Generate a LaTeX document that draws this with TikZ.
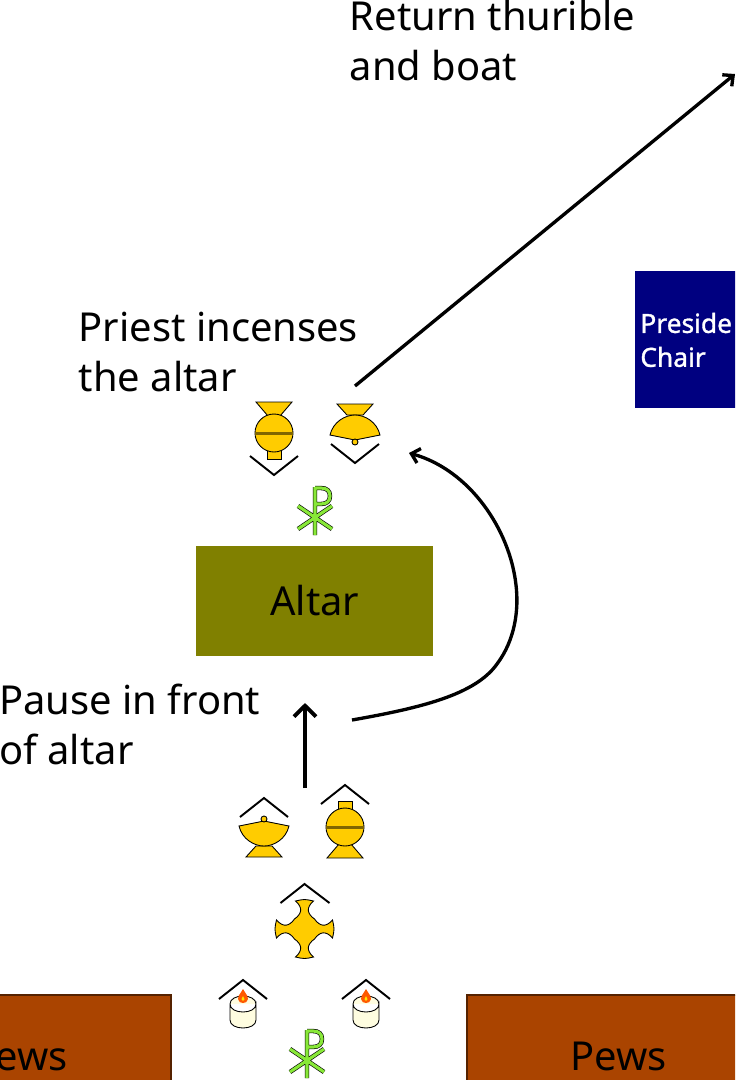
\documentclass[tikz,border=0pt]{standalone}
\usepackage{fontspec}
\setmainfont{Noto Sans}
\newfontfamily\chairfont[FakeBold=1.2]{Noto Sans}
\usetikzlibrary{arrows.meta}

\definecolor{gold}{HTML}{FFCC00}
\definecolor{goldband}{HTML}{806600}
\definecolor{chigreen}{HTML}{88E838}
\definecolor{pewbrown}{HTML}{AA4400}
\definecolor{pewedge}{HTML}{552200}
\definecolor{altarolive}{HTML}{808000}
\definecolor{chairblue}{HTML}{000080}
\definecolor{wax}{HTML}{FFFDE0}

\newcommand{\chipath}{(0, -31) -- (0, 17)
  (-17, -12) -- (17, 11) (17, -12) -- (-17, 11)
  (0, -30) -- (6, -30) .. controls (12, -30) and (15, -27) .. (15, -22)
  .. controls (15, -17) and (12, -14) .. (6, -14) -- (0, -14)}
\newcommand{\bigtext}{\fontsize{22.7}{28.3}\selectfont}

\tikzset{
  label/.style={anchor=north west, inner sep=0, align=left, font=\bigtext},
  pewbox/.style={draw=pewedge, line width=1.4pt, fill=pewbrown, inner sep=0,
    minimum width=6.04cm, minimum height=3cm},
  altarbox/.style={fill=altarolive, inner sep=0, minimum width=4.74cm, minimum height=2.2cm,
    font=\bigtext},
  pewtext/.style={inner sep=0, font=\bigtext},
  chairbox/.style={fill=chairblue, inner sep=0, minimum width=4cm, minimum height=2.74cm},
  chairtext/.style={anchor=north west, inner sep=0, align=left, text=white,
    font=\fontsize{15}{19.3}\chairfont},
  route/.style={line width=1.9pt, ->, >={Straight Barb[length=4.5pt, width=8.5pt, line width=1.9pt]}},
  bigroute/.style={line width=2.2pt, ->, >={Straight Barb[length=6.2pt, width=12.5pt, line width=2.2pt]}},
  vessel/.style={draw=black, line width=0.5pt, fill=gold},
  facing/.style={draw=black, line width=1.1pt},
  pics/chirho/.style={code={
    \draw[black, line width=2.5pt] \chipath;
    \draw[chigreen, line width=1.8pt] \chipath;
  }},
  pics/boat/.style={code={
    \draw[facing] (-24, -2) -- (0, -21) -- (24, -2);
    \draw[vessel] (-8, 27) -- (8, 27) -- (18, 38) -- (-18, 38) -- cycle;
    \draw[vessel] (-25, 7) -- (0, 2) -- (25, 7) .. controls (22, 20) and (10, 27) .. (0, 27)
      .. controls (-10, 27) and (-22, 20) .. (-25, 7) -- cycle;
    \draw[vessel] (0, 0) circle[radius=3];
  }},
  pics/thurible/.style={code={
    \draw[facing] (-24, -23) -- (0, -42) -- (24, -23);
    \draw[vessel] (-7, -26) rectangle (7, -17);
    \draw[vessel] (-6, 17) -- (6, 17) -- (18, 31) -- (-18, 31) -- cycle;
    \draw[vessel] (0, 0) circle[radius=19];
    \draw[goldband, line width=1.7pt] (-19, 0) -- (19, 0);
  }},
  pics/crossbearer/.style={code={
    \draw[facing] (-24, -26) -- (0, -45) -- (25, -26);
    \draw[vessel] (-9, -28) .. controls (0, -30) .. (9, -28)
      .. controls (1, -21) and (3, -15) .. (10, -10)
      .. controls (15, -3) and (21, -1) .. (28, -9)
      .. controls (30, 0) .. (28, 9)
      .. controls (21, 1) and (15, 3) .. (10, 10)
      .. controls (3, 15) and (1, 21) .. (9, 28)
      .. controls (0, 30) .. (-9, 28)
      .. controls (-1, 21) and (-3, 15) .. (-10, 10)
      .. controls (-15, 3) and (-21, 1) .. (-28, 9)
      .. controls (-30, 0) .. (-28, -9)
      .. controls (-21, -1) and (-15, -3) .. (-10, -10)
      .. controls (-3, -15) and (-1, -21) .. (-9, -28) -- cycle;
  }},
  pics/candle/.style={code={
    \draw[facing] (-24, -5) -- (0, -24) -- (24, -5);
    \draw[draw=black, line width=0.5pt, fill=wax] (-13, 0) -- (-13, 16)
      .. controls (-13, 21) and (-7, 24) .. (0, 24) .. controls (7, 24) and (13, 21) .. (13, 16)
      -- (13, 0) .. controls (13, 5) and (7, 8) .. (0, 8) .. controls (-7, 8) and (-13, 5) .. (-13, 0)
      .. controls (-13, -5) and (-7, -8) .. (0, -8) .. controls (7, -8) and (13, -5) .. (13, 0);
    \fill[orange!70!red] (0, -15) .. controls (1, -11) and (5, -10) .. (5, -5)
      .. controls (5, -2) and (2, -1) .. (0, -1) .. controls (-2, -1) and (-5, -2) .. (-5, -5)
      .. controls (-5, -10) and (-1, -11) .. (0, -15) -- cycle;
    \fill[yellow!90!orange] (0, -8) .. controls (2, -6) and (2, -3) .. (0, -3)
      .. controls (-2, -3) and (-2, -6) .. (0, -8) -- cycle;
  }},
}

\begin{document}
\begin{tikzpicture}[x=0.02cm, y=-0.02cm]
  \useasboundingbox (0, 0) rectangle (735, 1080);
  \clip (0, 0) rectangle (735, 1080);

  \node[altarbox] (altar) at (314.8, 601) {Altar};
  \node[pewbox] (pewsleft) at (20, 1070) {};
  \node[pewbox] (pewsright) at (618, 1070) {};
  \node[pewtext] (pewsltext) at (19.5, 1056.5) {Pews};
  \node[pewtext] (pewsrtext) at (618.5, 1056.5) {Pews};
  \node[chairbox, anchor=north west] (chair) at (634.5, 271) {};
  \node[chairtext] (chairtext) at (640, 312.5) {Preside\\Chair};

  \node[label] (returntext) at (349.5, 0) {Return thurible\\and boat};
  \node[label] (incensetext) at (78.5, 312) {Priest incenses\\the altar};
  \node[label] (pausetext) at (-1, 683.5) {Pause in front\\of altar};

  \pic at (315, 518) {chirho};
  \pic at (307, 1061) {chirho};
  \pic at (274, 433) [rotate=180] {thurible};
  \pic at (355, 442) [rotate=180] {boat};
  \pic at (264, 819) {boat};
  \pic at (345, 827) {thurible};
  \pic at (304.5, 929) {crossbearer};
  \pic at (243, 1004) {candle};
  \pic at (366, 1004) {candle};

  \coordinate (pausefoot) at (305, 788);
  \coordinate (pausehead) at (305, 703);
  \coordinate (aroundfoot) at (352, 720);
  \coordinate (aroundhead) at (409, 453);
  \coordinate (returnfoot) at (355, 386);
  \coordinate (returnhead) at (735, 74);

  \draw[bigroute] (pausefoot) -- (pausehead);
  \draw[route] (aroundfoot) .. controls (420, 708) and (475, 695) .. (497, 664)
    .. controls (515, 640) and (519, 610) .. (516, 585)
    .. controls (510, 530) and (470, 470) .. (aroundhead);
  \draw[route] (returnfoot) -- (returnhead);
\end{tikzpicture}
\end{document}
